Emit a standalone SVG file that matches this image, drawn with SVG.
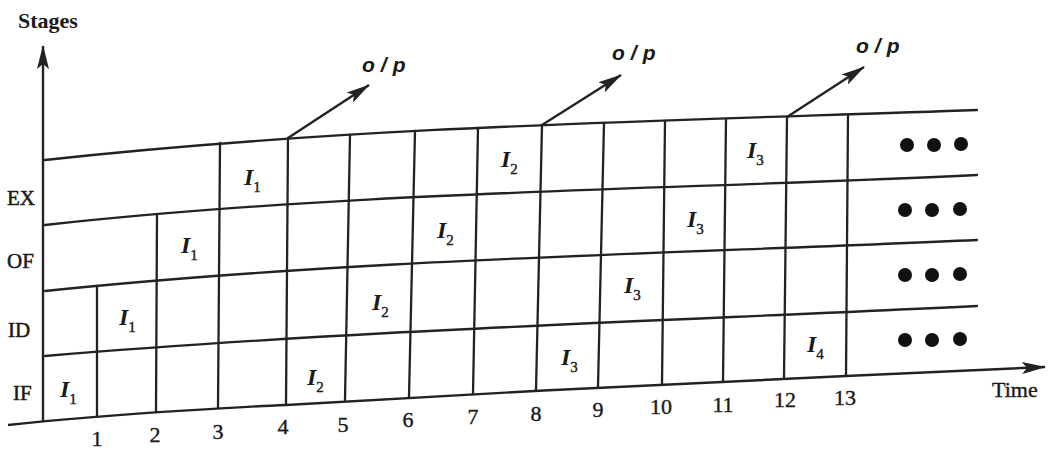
<svg xmlns="http://www.w3.org/2000/svg" width="1050" height="451" viewBox="0 0 1050 451">
<defs>
<marker id="ah" viewBox="0 0 24 12" markerWidth="24" markerHeight="12" refX="23" refY="6" orient="auto" markerUnits="userSpaceOnUse">
<path d="M0,0 L24,6 L0,12 L5,6 Z" fill="#222"/>
</marker>
<style>
.ln{fill:none;stroke:#222;stroke-width:2.3;stroke-linejoin:round;stroke-linecap:round}
.ax{fill:none;stroke:#222;stroke-width:2.4}
.rl{font-family:"Liberation Serif",serif;font-size:21px;fill:#1a1a1a;stroke:#1a1a1a;stroke-width:0.5}
.tk{font-family:"Liberation Serif",serif;font-size:22px;fill:#1a1a1a;stroke:#1a1a1a;stroke-width:0.4;text-anchor:middle}
.ins{font-family:"Liberation Serif",serif;font-size:24px;font-style:italic;font-weight:bold;fill:#1a1a1a}
.sub{font-size:15px;font-style:normal;font-weight:normal;stroke:#1a1a1a;stroke-width:0.4}
.op{font-family:"Liberation Sans",sans-serif;font-size:21px;font-style:italic;font-weight:bold;fill:#1a1a1a;letter-spacing:6px}
.dot{fill:#111}
</style>
</defs>
<rect width="1050" height="451" fill="#fff"/>

<g id="axes">
<line class="ax" x1="43" y1="421" x2="43" y2="46" marker-end="url(#ah)"/>
<path class="ax" d="M8,425 C120,413 260,406 286,405 C450,395 700,382 846,376 L1045,367" marker-end="url(#ah)"/>
<text x="18" y="28" font-family="Liberation Serif, serif" font-size="22" font-weight="bold" fill="#1a1a1a">Stages</text>
<text x="992" y="397" font-family="Liberation Serif, serif" font-size="22" fill="#1a1a1a" stroke="#1a1a1a" stroke-width="0.4">Time</text>
</g>

<g id="grid">
<path class="ln" d="M45,160 C355,126 667,121 977,110"/>
<path class="ln" d="M45,225 C355,191 667,190 977,175"/>
<path class="ln" d="M45,291 C355,259 667,254 977,240"/>
<path class="ln" d="M45,356 C355,330 667,321 977,306"/>
<line class="ln" x1="97" y1="286" x2="97" y2="416"/>
<line class="ln" x1="157" y1="215" x2="156" y2="412"/>
<line class="ln" x1="220" y1="143" x2="218" y2="408"/>
<line class="ln" x1="288" y1="138" x2="286" y2="405"/>
<line class="ln" x1="350" y1="135" x2="345" y2="400"/>
<line class="ln" x1="415" y1="131" x2="409" y2="397"/>
<line class="ln" x1="478" y1="128" x2="473" y2="394"/>
<line class="ln" x1="542" y1="125" x2="536" y2="390"/>
<line class="ln" x1="604" y1="123" x2="598" y2="387"/>
<line class="ln" x1="665" y1="121" x2="662" y2="384"/>
<line class="ln" x1="726" y1="119" x2="723" y2="381"/>
<line class="ln" x1="787" y1="117" x2="784" y2="378"/>
<line class="ln" x1="848" y1="115" x2="846" y2="376"/>
</g>

<g id="stage-labels">
<text class="rl" x="7" y="205">EX</text>
<text class="rl" x="7" y="268">OF</text>
<text class="rl" x="8" y="337">ID</text>
<text class="rl" x="13" y="400">IF</text>
</g>

<g id="time-ticks">
<text class="tk" x="97" y="446">1</text>
<text class="tk" x="155" y="442">2</text>
<text class="tk" x="218" y="439">3</text>
<text class="tk" x="283" y="434">4</text>
<text class="tk" x="343" y="432">5</text>
<text class="tk" x="408" y="427">6</text>
<text class="tk" x="473" y="424">7</text>
<text class="tk" x="536" y="421">8</text>
<text class="tk" x="598" y="417">9</text>
<text class="tk" x="661" y="414">10</text>
<text class="tk" x="723" y="412">11</text>
<text class="tk" x="785" y="407">12</text>
<text class="tk" x="845" y="405">13</text>
</g>

<g id="instructions">
<text class="ins" x="60" y="397">I<tspan class="sub" dy="7">1</tspan></text>
<text class="ins" x="119" y="325">I<tspan class="sub" dy="7">1</tspan></text>
<text class="ins" x="181" y="253">I<tspan class="sub" dy="7">1</tspan></text>
<text class="ins" x="244" y="185">I<tspan class="sub" dy="7">1</tspan></text>
<text class="ins" x="307" y="385">I<tspan class="sub" dy="7">2</tspan></text>
<text class="ins" x="372" y="310">I<tspan class="sub" dy="7">2</tspan></text>
<text class="ins" x="437" y="238">I<tspan class="sub" dy="7">2</tspan></text>
<text class="ins" x="501" y="167">I<tspan class="sub" dy="7">2</tspan></text>
<text class="ins" x="561" y="365">I<tspan class="sub" dy="7">3</tspan></text>
<text class="ins" x="624" y="293">I<tspan class="sub" dy="7">3</tspan></text>
<text class="ins" x="687" y="227">I<tspan class="sub" dy="7">3</tspan></text>
<text class="ins" x="747" y="158">I<tspan class="sub" dy="7">3</tspan></text>
<text class="ins" x="807" y="352">I<tspan class="sub" dy="7">4</tspan></text>
</g>

<g id="outputs">
<line class="ax" x1="288" y1="138" x2="369" y2="85" marker-end="url(#ah)"/>
<line class="ax" x1="542" y1="125" x2="621" y2="75" marker-end="url(#ah)"/>
<line class="ax" x1="787" y1="117" x2="864" y2="67" marker-end="url(#ah)"/>
<text class="op" x="362" y="72">o/p</text>
<text class="op" x="612" y="60">o/p</text>
<text class="op" x="856" y="53">o/p</text>
</g>

<g id="continuation">
<circle class="dot" cx="907" cy="145" r="7"/><circle class="dot" cx="934" cy="145" r="7"/><circle class="dot" cx="961" cy="144" r="7"/>
<circle class="dot" cx="905" cy="210" r="7"/><circle class="dot" cx="932" cy="210" r="7"/><circle class="dot" cx="960" cy="209" r="7"/>
<circle class="dot" cx="905" cy="275" r="7"/><circle class="dot" cx="932" cy="275" r="7"/><circle class="dot" cx="960" cy="274" r="7"/>
<circle class="dot" cx="905" cy="340" r="7"/><circle class="dot" cx="932" cy="340" r="7"/><circle class="dot" cx="960" cy="339" r="7"/>
</g>
</svg>
